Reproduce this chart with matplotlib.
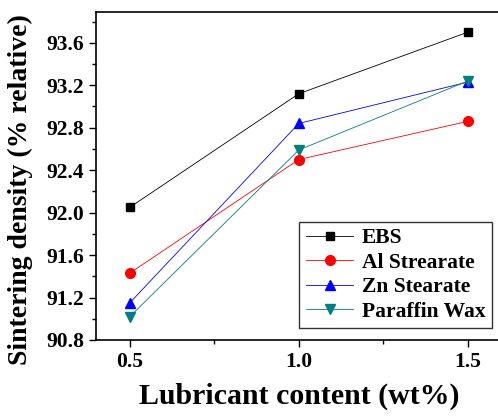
import matplotlib
matplotlib.use("Agg")
import matplotlib.pyplot as plt
from matplotlib.ticker import MultipleLocator, FormatStrFormatter

x = [0.5, 1.0, 1.5]
ebs = [92.05, 93.12, 93.70]
al = [91.43, 92.50, 92.86]
zn = [91.15, 92.84, 93.23]
paraffin = [91.02, 92.59, 93.24]
labels = ["EBS", "Al Strearate", "Zn Stearate", "Paraffin Wax"]

plt.rcParams['font.family'] = ['Liberation Serif', 'DejaVu Serif']
plt.rcParams['font.weight'] = 'bold'

fig = plt.figure(figsize=(4.98, 4.18), dpi=100)
ax = fig.add_axes([96/498, 1-340/418, (501.6-96)/498, (340-12)/418])

ax.plot(x, ebs, '-s', color='black', lw=0.6, ms=6, label=labels[0])
ax.plot(x, al, '-o', color='red', lw=0.6, ms=7, label=labels[1])
ax.plot(x, zn, '-^', color='blue', lw=0.6, ms=7, label=labels[2])
ax.plot(x, paraffin, '-v', color='#008080', lw=0.6, ms=7, label=labels[3])

ax.set_xlim(0.4, 1.6)
ax.set_ylim(90.8, 93.89)
ax.xaxis.set_major_locator(MultipleLocator(0.5))
ax.xaxis.set_minor_locator(MultipleLocator(0.25))
ax.yaxis.set_major_locator(MultipleLocator(0.4))
ax.yaxis.set_minor_locator(MultipleLocator(0.2))
ax.xaxis.set_major_formatter(FormatStrFormatter('%.1f'))
ax.yaxis.set_major_formatter(FormatStrFormatter('%.1f'))
ax.tick_params(which='major', direction='out', length=5, width=1, labelsize=15.5)
ax.tick_params(which='minor', direction='out', length=3, width=1)
for s in ax.spines.values():
    s.set_linewidth(1.2)

ax.set_xlabel('Lubricant content (wt%)', fontsize=21.5, fontweight='bold', labelpad=8)
ax.set_ylabel('Sintering density (% relative)', fontsize=20, fontweight='bold')
ax.yaxis.set_label_coords(-0.155, 0.46)

leg = ax.legend(loc='lower right', bbox_to_anchor=((492-96)/405.6, 12/328), fontsize=15.5,
                frameon=True, fancybox=False, edgecolor='black', handlelength=2.2,
                borderpad=0.3, labelspacing=0.2, handletextpad=0.4, borderaxespad=0)
leg.get_frame().set_linewidth(1.0)

fig.savefig('out.png', dpi=100)
